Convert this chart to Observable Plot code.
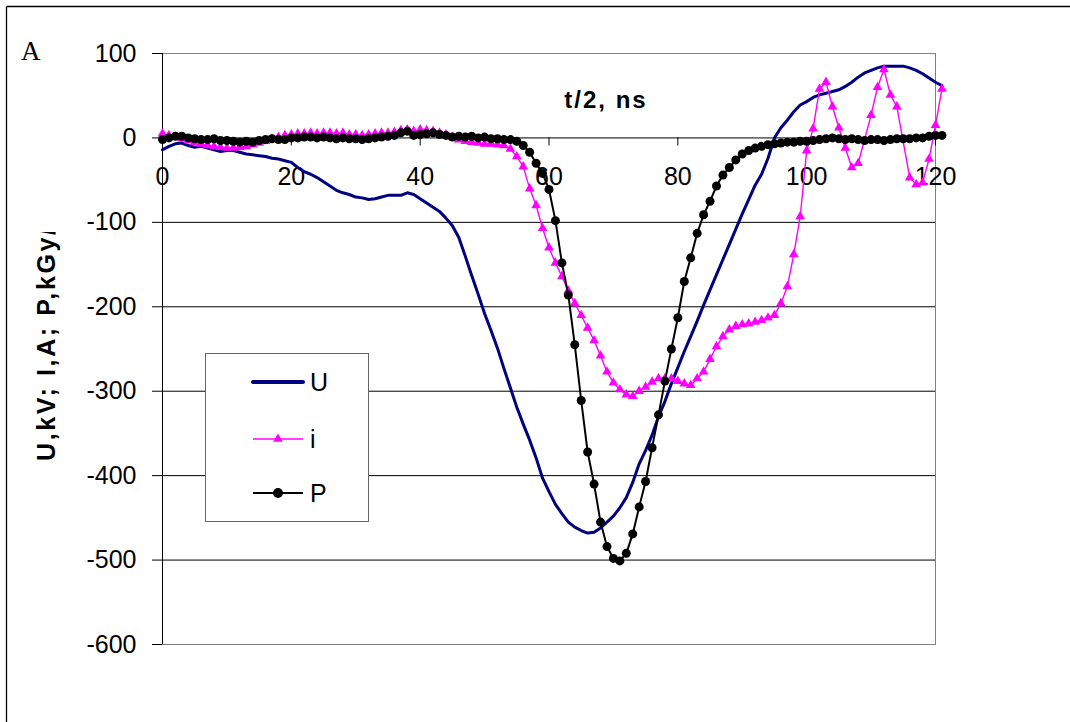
<!DOCTYPE html>
<html><head><meta charset="utf-8">
<script src="https://cdn.jsdelivr.net/npm/d3@7"></script>
<script src="https://cdn.jsdelivr.net/npm/@observablehq/plot@0.6"></script>
<style>
html,body{margin:0;padding:0;background:#fff;}
#chart{position:relative;width:1070px;height:722px;overflow:hidden;}
svg{display:block;}
</style></head><body><div id="chart"></div>
<script>
// time, t/2 in ns
const time = [0,1,2,3,4,5,6,7,8,9,10,11,12,13,14,15,16,17,18,19,20,21,22,23,24,25,26,27,28,29,30,31,32,33,34,35,36,37,38,39,40,41,42,43,44,45,46,47,48,49,50,51,52,53,54,55,56,57,58,59,60,61,62,63,64,65,66,67,68,69,70,71,72,73,74,75,76,77,78,79,80,81,82,83,84,85,86,87,88,89,90,91,92,93,94,95,96,97,98,99,100,101,102,103,104,105,106,107,108,109,110,111,112,113,114,115,116,117,118,119,120,121];
// U, kV
const voltageU = [-14,-10,-7,-6,-9,-11,-10,-12,-14,-16,-15,-15,-17,-19,-20,-21,-22,-24,-25,-27,-29,-35,-40,-43,-47,-52,-57,-62,-65,-67,-70,-71,-73,-72,-70,-68,-68,-68,-65,-67,-72,-77,-82,-87,-95,-104,-118,-140,-163,-185,-208,-228,-249,-273,-296,-319,-339,-358,-379,-403,-419,-434,-445,-455,-461,-465,-468,-467,-462,-455,-448,-438,-426,-408,-386,-370,-352,-330,-312,-291,-272,-253,-235,-217,-198,-180,-162,-144,-126,-108,-90,-73,-56,-43,-24,0,12,21,31,39,43,48,51,53,55,57,61,66,72,77,80,83,85,85,85,85,83,80,76,71,66,62];
// i, A  (own sample times)
const timeI = [0,1,2,3,4,5,6,7,8,9,10,11,12,13,14,15,16,17,18,19,20,21,22,23,24,25,26,27,28,29,30,31,32,33,34,35,36,37,38,39,40,41,42,43,44,45,46,47,48,49,50,51,52,53,54,55,56,57,58,59,60,61,62,63,64,65,66,67,68,69,70,71,72,73,74,75,76,77,78,79,80,81,82,83,84,85,86,87,88,89,90,91,92,93,94,95,96,97,98,99,100,101,102,103,104,105,106,107,108,110,111,112,113,114,116,117,118,119,120,121];
const currentI = [5,3,1,-1,-3,-5,-7,-9,-10,-11,-12,-12,-11,-10,-8,-6,-4,-1,1,3,4,5,5,6,5,6,6,5,6,4,4,3,4,5,6,6,7,9,10,8,10,9,8,6,4,1,-2,-4,-5,-6,-7,-7,-8,-9,-13,-22,-34,-60,-80,-107,-130,-148,-164,-181,-196,-210,-225,-240,-258,-277,-290,-298,-304,-306,-300,-295,-289,-285,-285,-285,-288,-291,-293,-285,-277,-262,-247,-235,-227,-223,-221,-220,-218,-216,-213,-210,-196,-176,-138,-93,-15,11,58,66,37,12,-12,-35,-30,27,60,81,51,37,-47,-55,-53,-25,15,58];
// P, kGy/s
const doseP = [-2,0,2,2,0,-1,-2,-2,-1,-3,-3,-4,-5,-4,-5,-3,-2,-1,-2,-2,0,0,1,1,0,1,0,-1,0,-1,-1,-2,-1,0,1,2,3,6,8,3,4,5,6,4,3,1,2,1,2,0,1,-1,-1,-2,-2,-4,-9,-17,-30,-42,-61,-98,-148,-186,-245,-311,-372,-410,-455,-484,-498,-501,-492,-469,-437,-407,-367,-328,-288,-250,-213,-170,-142,-113,-91,-75,-57,-44,-35,-26,-19,-15,-12,-10,-8,-7,-6,-5,-5,-4,-4,-3,-2,-1,0,-1,-2,-1,-2,-3,-2,-2,-3,-2,-1,-1,-1,0,0,2,3,3];

const xTicks = [0,20,40,60,80,100,120];
const yTicks = [-600,-500,-400,-300,-200,-100,0,100];
const gridY = [-500,-400,-300,-200,-100];
const seriesNames = ["U","i","P"];
const seriesColors = ["#000080","#FF00FF","#000000"];
const xLabel = "t/2, ns";
const yLabel = "U,kV; I,A; P,kGy/s";
const panelLabel = "A";

const dataU = time.map((t,k)=>({t, v: voltageU[k]}));
const dataI = timeI.map((t,k)=>({t, v: currentI[k]}));
const dataP = time.map((t,k)=>({t, v: doseP[k]}));

const FONT = "'Liberation Sans', Arial, sans-serif";

const chart = Plot.plot({
  width: 1070, height: 722,
  marginLeft: 162, marginRight: 135, marginTop: 53, marginBottom: 78,
  x: {domain: [0,120], axis: null},
  y: {domain: [-600,100]},
  style: {fontFamily: FONT, background: "#fff", color: "#000"},
  marks: [
    Plot.ruleY(gridY, {stroke: "#000", strokeWidth: 1}),
    Plot.frame({stroke: "#808080"}),
    Plot.ruleX([0], {stroke: "#000"}),
    Plot.ruleY([0], {stroke: "#000"}),
    Plot.axisY(yTicks, {tickSize: 10, tickPadding: 16, fontSize: 25, tickFormat: d => String(d), label: null, stroke: "#000"}),
    Plot.ruleX(xTicks, {x: d => d, y1: 0, y2: 0, insetBottom: -8, stroke: "#000"}),
    Plot.text(xTicks, {x: d => d, y: 0, text: d => String(d), dy: 39, fontSize: 25, fill: "#000"}),
    Plot.line(dataU, {x: "t", y: "v", stroke: seriesColors[0], strokeWidth: 3}),
    Plot.line(dataI, {x: "t", y: "v", stroke: seriesColors[1], strokeWidth: 1.4}),
    Plot.dot(dataI, {x: "t", y: "v", symbol: "triangle", r: 3.6, fill: seriesColors[1], stroke: "none"}),
    Plot.line(dataP, {x: "t", y: "v", stroke: seriesColors[2], strokeWidth: 2}),
    Plot.dot(dataP, {x: "t", y: "v", r: 4.5, fill: seriesColors[2], stroke: "none"})
  ]
});
document.getElementById("chart").appendChild(chart);

const svg = d3.select(chart);
// outer frame lines
svg.append("line").attr("x1",6.5).attr("y1",6.5).attr("x2",1070).attr("y2",6.5).attr("stroke","#000").attr("stroke-width",1.3);
svg.append("line").attr("x1",6.5).attr("y1",6.5).attr("x2",6.5).attr("y2",722).attr("stroke","#000").attr("stroke-width",1.3);

// panel label
svg.append("text").attr("x",21).attr("y",60).attr("text-anchor","start").attr("font-family","'Liberation Serif', 'Times New Roman', serif").attr("font-size",27).attr("fill","#000").text(panelLabel);

// x axis title
svg.append("text").attr("x",606).attr("y",108).attr("text-anchor","middle").attr("font-family",FONT).attr("font-weight","bold").attr("font-size",24).attr("letter-spacing","2px").attr("fill","#000").text(xLabel);

// y axis title, clipped at top like the reference
const defs = svg.append("defs");
defs.append("clipPath").attr("id","yclip").append("rect").attr("x",0).attr("y",232).attr("width",120).attr("height",490);
svg.append("g").attr("clip-path","url(#yclip)")
  .append("text").attr("transform","translate(55,461) rotate(-90)").attr("text-anchor","start")
  .attr("font-family",FONT).attr("font-weight","bold").attr("font-size",25).attr("letter-spacing","2.6px").attr("fill","#000").text(yLabel);

// legend
const lg = svg.append("g");
lg.append("rect").attr("x",205.5).attr("y",353.5).attr("width",163).attr("height",168).attr("fill","#fff").attr("stroke","#666");
const ly = [382, 439, 493];
const lw = [4, 1.5, 2];
seriesNames.forEach((name,k)=>{
  lg.append("line").attr("x1",253).attr("x2",303).attr("y1",ly[k]).attr("y2",ly[k]).attr("stroke",seriesColors[k]).attr("stroke-width",lw[k]).attr("stroke-linecap", k===0 ? "round" : "butt");
  if (k===1) lg.append("path").attr("d", d3.symbol(d3.symbolTriangle, Math.PI*3.6*3.6)()).attr("transform",`translate(278,${ly[k]})`).attr("fill",seriesColors[k]);
  if (k===2) lg.append("circle").attr("cx",278).attr("cy",ly[k]).attr("r",5).attr("fill",seriesColors[k]);
  lg.append("text").attr("x",310).attr("y",ly[k]+9).attr("text-anchor","start").attr("font-family",FONT).attr("font-size",25).attr("fill","#000").text(name);
});
</script>
</body></html>
